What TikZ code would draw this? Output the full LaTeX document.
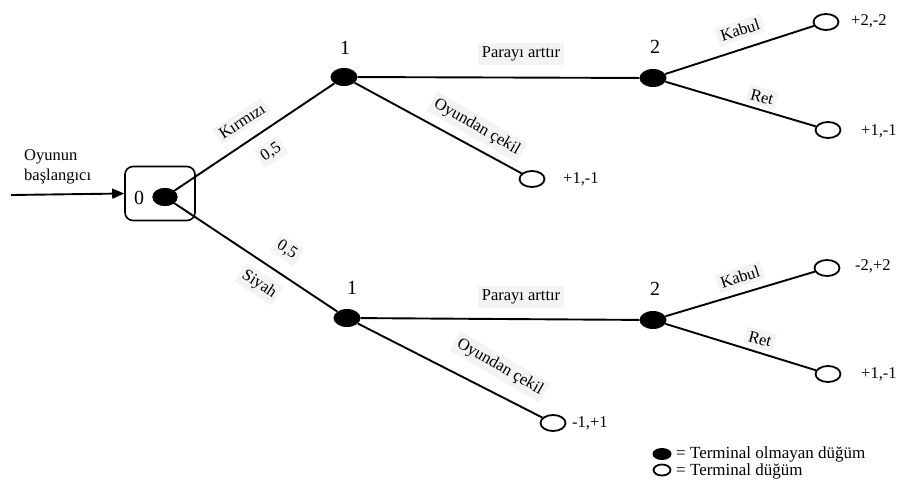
\documentclass[tikz,border=0pt]{standalone}
\usepackage{fontspec}
\setmainfont{Liberation Serif}
\usetikzlibrary{shapes.geometric,arrows.meta}
\definecolor{labelbg}{HTML}{F3F3F3}
\begin{document}
\begin{tikzpicture}[x=1pt,y=-1pt,
  dec/.style={ellipse,fill=black,minimum width=27pt,minimum height=18pt,inner sep=0pt},
  term/.style={ellipse,draw,line width=1.8pt,fill=white,minimum width=25pt,minimum height=16pt,inner sep=0pt},
  branch/.style={line width=1.9pt},
  lbl/.style={fill=labelbg,inner sep=3.5pt,font=\fontsize{16.5}{19}\selectfont},
  pay/.style={font=\fontsize{16.5}{19}\selectfont,anchor=west,inner sep=0pt},
  num/.style={font=\fontsize{20}{22}\selectfont,inner sep=0pt},
  leg/.style={font=\fontsize{17}{19}\selectfont,anchor=west,inner sep=0pt}]
\useasboundingbox (0,0) rectangle (899,479);

% start of the game
\node[draw,line width=1.6pt,rounded corners=8pt,minimum width=70pt,minimum height=54pt] (box) at (160,193.5) {};
\node[num] (z) at (139,198) {0};
\node[dec,minimum width=25pt] (r) at (165,197) {};
\coordinate (in) at (11,195);
\draw[line width=1.9pt,-{Triangle[length=12pt,width=10pt]}] (in) -- (box.west);
\node[align=left,anchor=west,inner sep=0pt,font=\fontsize{16.5}{20}\selectfont] (st) at (24,167) {Oyunun\\başlangıcı};

% decision nodes
\node[dec] (a1) at (344,77) {};
\node[dec] (a2) at (653,78) {};
\node[dec] (b1) at (347,318) {};
\node[dec] (b2) at (653,320) {};
\node[num] (la1) at (345,48) {1};
\node[num] (la2) at (655,47) {2};
\node[num] (lb1) at (352,288) {1};
\node[num] (lb2) at (655,289) {2};

% terminal nodes
\node[term] (ta) at (826,22) {};
\node[term] (tb) at (828,130) {};
\node[term] (tc) at (532,179) {};
\node[term] (td) at (827,268) {};
\node[term] (te) at (828,374) {};
\node[term] (tf) at (553,423) {};

% branches
\draw[branch] (r.center) -- (a1);
\draw[branch] (r.center) -- (b1);
\draw[branch] (a1) -- (a2);
\draw[branch] (a1) -- (tc);
\draw[branch] (a2) -- (ta);
\draw[branch] (a2) -- (tb);
\draw[branch] (b1) -- (b2);
\draw[branch] (b1) -- (tf);
\draw[branch] (b2) -- (td);
\draw[branch] (b2) -- (te);
\node[dec,minimum width=25pt] at (r) {};

% branch labels
\node[lbl,rotate=33] (k) at (242,121) {Kırmızı};
\node[lbl,rotate=33] (p1) at (271,152) {0,5};
\node[lbl,rotate=-33] (p2) at (287,250) {0,5};
\node[lbl,rotate=-33] (s) at (259,284) {Siyah};
\node[lbl] (pa) at (521,54) {Parayı arttır};
\node[lbl] (pb) at (521,297) {Parayı arttır};
\node[lbl,rotate=-30] (ca) at (477,127) {Oyundan çekil};
\node[lbl,rotate=-30] (cb) at (500,367) {Oyundan çekil};
\node[lbl,rotate=18] (ka) at (740,30) {Kabul};
\node[lbl,rotate=-15] (ra) at (762,97) {Ret};
\node[lbl,rotate=18] (kb) at (740,277) {Kabul};
\node[lbl,rotate=-15] (rb) at (760,339) {Ret};

% payoffs
\node[pay] (va) at (851,21) {+2,-2};
\node[pay] (vb) at (861,131) {+1,-1};
\node[pay] (vc) at (563,179) {+1,-1};
\node[pay] (vd) at (855,266) {-2,+2};
\node[pay] (ve) at (861,374) {+1,-1};
\node[pay] (vf) at (572,423) {-1,+1};

% legend
\node[ellipse,fill=black,minimum width=19pt,minimum height=12pt,inner sep=0pt] (l1) at (662,454) {};
\node[ellipse,draw,line width=1.8pt,minimum width=17pt,minimum height=11pt,inner sep=0pt] (l2) at (662,470) {};
\node[leg] (t1) at (676,454) {= Terminal olmayan düğüm};
\node[leg] (t2) at (676,471) {= Terminal düğüm};
\end{tikzpicture}
\end{document}
